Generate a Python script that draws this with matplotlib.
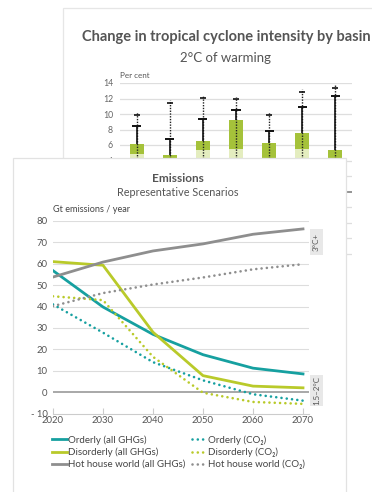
import matplotlib
matplotlib.use("Agg")
import matplotlib.pyplot as plt
from matplotlib.patches import Rectangle

plt.rcParams["font.family"] = ["Lato", "DejaVu Sans"]

# --- background chart: tropical cyclone intensity (mostly hidden) ---
basins = ["NA", "EP", "WP", "NI", "SI", "SP", "SA"]
bar_low = [4.9, 4.0, 5.3, 5.5, 4.3, 5.5, 4.0]
bar_top = [6.1, 4.7, 6.5, 9.2, 6.2, 7.6, 5.3]
solid_high = [8.5, 6.8, 9.4, 10.5, 7.8, 10.9, 12.3]
dotted_high = [9.9, 11.4, 12.1, 11.9, 9.9, 12.9, 13.4]
bg_ticks = [-8, -6, -4, -2, 0, 2, 4, 6, 8, 10, 12, 14]

# --- foreground chart: emissions scenarios ---
years = [2020, 2030, 2040, 2050, 2060, 2070]
orderly_ghg = [56.8, 39.8, 27.0, 17.5, 11.2, 8.5]
disorderly_ghg = [61.0, 59.3, 28.0, 7.7, 2.8, 2.0]
hothouse_ghg = [53.8, 60.8, 66.0, 69.3, 73.8, 76.3]
orderly_co2 = [41.0, 27.8, 14.0, 5.5, -1.0, -4.0]
disorderly_co2 = [44.8, 43.0, 16.5, -0.3, -4.6, -5.5]
hothouse_co2 = [40.2, 46.3, 50.3, 53.6, 57.4, 59.8]
y_ticks = [-10, 0, 10, 20, 30, 40, 50, 60, 70, 80]
y_labels = ["- 10", "0", "10", "20", "30", "40", "50", "60", "70", "80"]

TEAL = "#16a0a0"
LIME = "#b9ca2a"
GREY = "#8e8e8e"
W, H = 372, 492


def fx(x):
    return x / W


def fy(y):
    return 1 - y / H


fig = plt.figure(figsize=(W / 100, H / 100), dpi=100)

# background panel
fig.patches.append(Rectangle((fx(63), -0.1), 1.0, fy(8) + 0.1, transform=fig.transFigure,
                             fc="white", ec="#e6e6e6", lw=0.9, zorder=-1))

ax_bg = fig.add_axes([fx(120), fy(261.25), fx(352) - fx(120), (261.25 - 83) / H])
ax_bg.set_facecolor("none")
ax_bg.set_xlim(-0.5, 6.5)
ax_bg.set_ylim(-9, 14)
for v in bg_ticks:
    ax_bg.axhline(v, color="#777777" if v == 0 else "#dedede", lw=1.1 if v == 0 else 0.9, zorder=0)
xs = range(len(basins))
ax_bg.bar(xs, bar_low, width=0.42, color="#e4edbf", zorder=1)
ax_bg.bar(xs, [t - b for t, b in zip(bar_top, bar_low)], bottom=bar_low, width=0.42,
          color="#a5c23a", zorder=1)
ax_bg.vlines(xs, 0, [d + 0.35 for d in dotted_high], color="#222222", lw=1.0,
             linestyles=(0, (1, 1)), zorder=2)
ax_bg.vlines(xs, bar_top, solid_high, color="#111111", lw=1.2, zorder=3)
ax_bg.hlines(solid_high, [x - 0.14 for x in xs], [x + 0.14 for x in xs], color="#111111", lw=1.4, zorder=3)
ax_bg.hlines(dotted_high, [x - 0.09 for x in xs], [x + 0.09 for x in xs], color="#111111", lw=1.2, zorder=3)
ax_bg.set_yticks(bg_ticks)
# labels below 4 sit behind the front panel
ax_bg.set_yticklabels([str(t) if t >= 4 else "" for t in bg_ticks], fontsize=6.3, color="#666666")
ax_bg.tick_params(axis="y", length=0, pad=5)
ax_bg.set_xticks([])
for s in ax_bg.spines.values():
    s.set_visible(False)

fig.text(fx(226), fy(37), "Change in tropical cyclone intensity by basin", ha="center", va="center",
         fontsize=10.5, fontweight="bold", color="#555555")
fig.text(fx(226), fy(58), "2°C of warming", ha="center", va="center", fontsize=9.5, color="#555555")
fig.text(fx(120), fy(75), "Per cent", ha="left", va="center", fontsize=5.8, color="#555555")

# foreground panel
fig.patches.append(Rectangle((fx(13), -0.1), fx(346) - fx(13), fy(158) + 0.1, transform=fig.transFigure,
                             fc="white", ec="#e2e2e2", lw=0.9, zorder=1))

ax = fig.add_axes([fx(53), fy(413.5), fx(309) - fx(53), (413.5 - 221) / H])
ax.set_zorder(2)
ax.set_facecolor("none")
ax.set_xlim(2020, 2071.2)
ax.set_ylim(-10, 80)
for v in y_ticks[2:]:
    ax.axhline(v, color="#dddddd", lw=0.8, zorder=0)
ax.axhline(0, color="#9a9a9a", lw=1.2, zorder=0)

dot = dict(linestyle=(0, (0.01, 2.0)), dash_capstyle="round", lw=1.9)
l1, = ax.plot(years, orderly_ghg, color=TEAL, lw=2.0, label="Orderly (all GHGs)")
l2, = ax.plot(years, disorderly_ghg, color=LIME, lw=2.0, label="Disorderly (all GHGs)")
l3, = ax.plot(years, hothouse_ghg, color=GREY, lw=2.0, label="Hot house world (all GHGs)")
l4, = ax.plot(years, orderly_co2, color=TEAL, label="Orderly (CO\u2082)", **dot)
l5, = ax.plot(years, disorderly_co2, color=LIME, label="Disorderly (CO\u2082)", **dot)
l6, = ax.plot(years, hothouse_co2, color=GREY, label="Hot house world (CO\u2082)", **dot)

ax.set_xticks(years)
ax.set_xticklabels([str(y) for y in years], fontsize=6.8, color="#555555")
ax.set_yticks(y_ticks)
ax.set_yticklabels(y_labels, fontsize=6.8, color="#555555")
ax.tick_params(axis="y", length=0, pad=4)
ax.tick_params(axis="x", direction="in", length=4, width=0.8, color="#cccccc", pad=2)
for side in ["top", "right", "left"]:
    ax.spines[side].set_visible(False)
ax.spines["bottom"].set_color("#cccccc")
ax.spines["bottom"].set_linewidth(0.8)

# scenario tags
ax.add_patch(Rectangle((2071.4, 64.1), 2.6, 12.1, fc="#e8e8e8", ec="none", clip_on=False))
ax.text(2072.7, 70.15, "3°C+", rotation=90, ha="center", va="center", fontsize=5.8, color="#555555")
ax.add_patch(Rectangle((2071.4, -6.5), 2.6, 14.5, fc="#e8e8e8", ec="none", clip_on=False))
ax.text(2072.7, 0.75, "1.5–2°C", rotation=90, ha="center", va="center", fontsize=5.8, color="#555555")

fig.text(fx(177.5), fy(178), "Emissions", ha="center", va="center", fontsize=8.5,
         fontweight="bold", color="#555555")
fig.text(fx(177.5), fy(193), "Representative Scenarios", ha="center", va="center",
         fontsize=7.8, color="#555555")
fig.text(fx(53), fy(209), "Gt emissions / year", ha="left", va="center", fontsize=6.6, color="#444444")

leg_kw = dict(loc="upper left", frameon=False, fontsize=7.0, borderpad=0, borderaxespad=0,
              handlelength=1.5, handletextpad=0.15, labelspacing=0.3)
leg1 = fig.legend(handles=[l1, l2, l3], bbox_to_anchor=(fx(52), fy(435)), **leg_kw)
for t in leg1.get_texts():
    t.set_color("#444444")
leg2 = fig.legend(handles=[l4, l5, l6], bbox_to_anchor=(fx(192), fy(435)), **leg_kw)
for t in leg2.get_texts():
    t.set_color("#444444")

fig.savefig("out.png", dpi=100)
